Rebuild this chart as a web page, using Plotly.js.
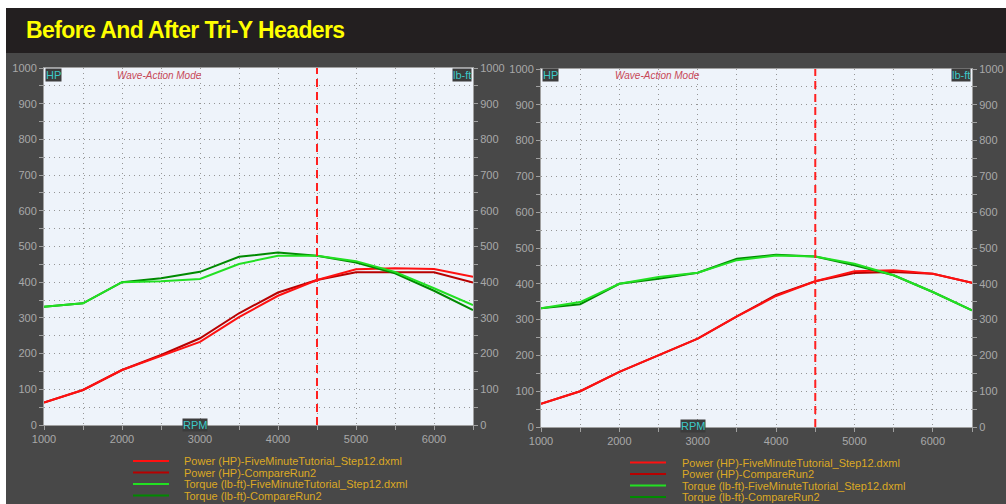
<!DOCTYPE html>
<html><head><meta charset="utf-8">
<script src="https://cdn.plot.ly/plotly-3.0.1.min.js"></script>
<style>html,body{margin:0;padding:0;background:#fff}#c{width:1006px;height:504px}
.gtitle{letter-spacing:-0.6px}
</style>
</head><body><div id="c"></div>
<script>
const rpm = [1000,1500,2000,2500,3000,3500,4000,4500,5000,5500,6000,6500];
const seriesNames = [
  "Power (HP)-FiveMinuteTutorial_Step12.dxml",
  "Power (HP)-CompareRun2",
  "Torque (lb-ft)-FiveMinuteTutorial_Step12.dxml",
  "Torque (lb-ft)-CompareRun2"
];
// Left chart
const powerFiveL  = [63, 98, 154, 194, 233, 302, 362, 406, 436, 439, 437, 415];
const powerCmpL   = [63, 98, 154, 196, 243, 313, 371, 406, 428, 428, 428, 399];
const torqueFiveL = [331, 341, 400, 403, 409, 451, 474, 474, 459, 429, 383, 336];
const torqueCmpL  = [331, 341, 400, 411, 429, 471, 483, 474, 455, 425, 376, 322];
// Right chart
const powerFiveR  = [65, 100, 154, 200, 247, 309, 366, 407, 435, 438, 428, 403];
const powerCmpR   = [65, 100, 154, 200, 247, 309, 369, 407, 430, 433, 428, 403];
const torqueFiveR = [332, 349, 400, 419, 431, 466, 479, 476, 456, 424, 377, 326];
const torqueCmpR  = [332, 343, 400, 414, 431, 470, 481, 476, 452, 424, 377, 326];
const markerRpm = 4500;
const titleText = "Before And After Tri-Y Headers";
const modeText = "Wave-Action Mode";

const W = 1006, H = 504;
const px = v => v / W, py = v => 1 - v / H;
const colors = ["#ff1010", "#b80000", "#22e022", "#008a00"];
const SANS = "Liberation Sans, Arial, sans-serif";

function tr(y, i, xa, ya) {
  return {x: rpm, y: y, type: "scatter", mode: "lines", name: seriesNames[i],
    xaxis: xa, yaxis: ya, line: {color: colors[i], width: 2}, showlegend: false, hoverinfo: "skip"};
}
const data = [
  tr(torqueCmpL, 3, "x", "y2"), tr(torqueFiveL, 2, "x", "y2"),
  tr(powerCmpL, 1, "x", "y"), tr(powerFiveL, 0, "x", "y"),
  tr(torqueCmpR, 3, "x2", "y4"), tr(torqueFiveR, 2, "x2", "y4"),
  tr(powerCmpR, 1, "x2", "y3"), tr(powerFiveR, 0, "x2", "y3")
];

const tickFont = {family: SANS, size: 11, color: "#a8a8a8"};
const GRID = {gridcolor: "#959595", griddash: "1px,4px", gridwidth: 1};
function xax(dom, anchor) {
  return Object.assign({domain: dom, anchor: anchor, range: [1000, 6500], tickvals: [1000,2000,3000,4000,5000,6000],
    ticks: "outside", ticklen: 4, tickcolor: "#a0a0a0", tickfont: tickFont, showgrid: true,
    minor: Object.assign({dtick: 500, tick0: 1000, ticks: "outside", ticklen: 4, tickcolor: "#a0a0a0", showgrid: true}, GRID),
    showline: true, linecolor: "#a0a0a0", linewidth: 1, mirror: true, zeroline: false, fixedrange: true}, GRID);
}
function yax(dom, anchor, side, overlay) {
  const a = Object.assign({domain: dom, anchor: anchor, side: side, range: [0, 1000], dtick: 100, tick0: 0,
    ticks: "outside", ticklen: 4, tickcolor: "#a0a0a0", tickfont: tickFont, showgrid: !overlay,
    minor: Object.assign({dtick: 50, ticks: "outside", ticklen: 4, tickcolor: "#a0a0a0"}, GRID, {showgrid: !overlay}),
    showline: true, linecolor: "#a0a0a0", linewidth: 1, zeroline: false, fixedrange: true}, GRID);
  if (overlay) a.overlaying = overlay;
  return a;
}

const L = {x0: 44, x1: 473, y0: 68, y1: 425};
const R = {x0: 541, x1: 972, y0: 69, y1: 427};

const shapes = [
  {type: "rect", xref: "paper", yref: "paper", x0: 0, x1: 1, y0: py(8), y1: 1, fillcolor: "#ffffff", line: {width: 0}, layer: "below"},
  {type: "rect", xref: "paper", yref: "paper", x0: 0, x1: px(6), y0: 0, y1: 1, fillcolor: "#ffffff", line: {width: 0}, layer: "below"},
  {type: "rect", xref: "paper", yref: "paper", x0: px(6), x1: 1, y0: py(53), y1: py(8), fillcolor: "#231f20", line: {width: 0}, layer: "below"},
  {type: "line", xref: "x", yref: "y domain", x0: markerRpm, x1: markerRpm, y0: 0, y1: 1, line: {color: "#ff2020", width: 2, dash: "8px,5px"}},
  {type: "line", xref: "x2", yref: "y3 domain", x0: markerRpm, x1: markerRpm, y0: 0, y1: 1, line: {color: "#ff2020", width: 2, dash: "8px,5px"}}
];
const annotations = [];
function boxLabel(text, x, y, xanchor) {
  annotations.push({text: text, xref: "paper", yref: "paper", x: px(x), y: py(y), xanchor: xanchor, yanchor: "middle",
    showarrow: false, bgcolor: "#3c3c3c", borderpad: 0, font: {family: SANS, size: 11, color: "#3cc8c8"}});
}
boxLabel("HP", L.x0 + 1, 75, "left");
boxLabel("lb-ft", L.x1 - 1, 75, "right");
boxLabel("HP", R.x0 + 1, 75, "left");
boxLabel("lb-ft", R.x1 - 1, 75, "right");
boxLabel("RPM", 182, 425, "left");
boxLabel("RPM", 680, 426, "left");
[[115, 75], [613, 75]].forEach(p => annotations.push({text: "<i>" + modeText + "</i>", xref: "paper", yref: "paper",
  x: px(p[0]), y: py(p[1]), xanchor: "left", yanchor: "middle", showarrow: false,
  font: {family: SANS, size: 10, color: "#c84858"}}));

// legends
const legRows = [[133, 182, [461, 472.5, 484, 495.5]], [630, 680, [462.5, 474, 485.5, 497]]];
legRows.forEach(([lx, tx, ys]) => {
  seriesNames.forEach((n, i) => {
    shapes.push({type: "line", xref: "paper", yref: "paper", x0: px(lx), x1: px(lx + 36), y0: py(ys[i]), y1: py(ys[i]),
      line: {color: colors[i], width: 2}});
    annotations.push({text: n, xref: "paper", yref: "paper", x: px(tx), y: py(ys[i]), xanchor: "left", yanchor: "middle",
      showarrow: false, font: {family: SANS, size: 11, color: "#dca824"}});
  });
});

const layout = {
  width: W, height: H, margin: {l: 0, r: 0, t: 0, b: 0},
  paper_bgcolor: "#484848", plot_bgcolor: "#eef3fa", showlegend: false,
  title: {text: titleText, x: px(26), xanchor: "left", xref: "paper", y: py(30), yref: "paper", yanchor: "middle",
    font: {family: SANS, size: 23, color: "#ffff00", weight: "bold"}},
  xaxis: xax([px(L.x0), px(L.x1)], "y"),
  yaxis: yax([py(L.y1), py(L.y0)], "x", "left"),
  yaxis2: yax([py(L.y1), py(L.y0)], "x", "right", "y"),
  xaxis2: xax([px(R.x0), px(R.x1)], "y3"),
  yaxis3: yax([py(R.y1), py(R.y0)], "x2", "left"),
  yaxis4: yax([py(R.y1), py(R.y0)], "x2", "right", "y3"),
  shapes: shapes, annotations: annotations
};
Plotly.newPlot("c", data, layout, {displayModeBar: false, staticPlot: true});
</script></body></html>
